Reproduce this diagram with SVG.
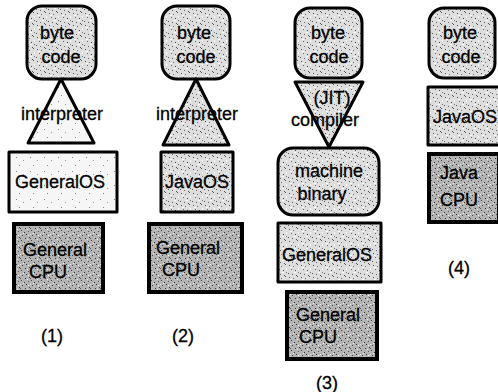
<svg xmlns="http://www.w3.org/2000/svg" width="498" height="392" viewBox="0 0 498 392">
<style>
text{font-family:"Liberation Sans",Arial,sans-serif;font-size:18px;fill:#000;stroke:#000;stroke-width:0.3;text-anchor:middle}
.b{stroke:#000;stroke-width:3;stroke-linejoin:round}
.bk{stroke:#000;stroke-width:4}
</style>
<defs>
<pattern id="pL" width="12" height="12" patternUnits="userSpaceOnUse">
<rect width="12" height="12" fill="#dedede"/>
<rect x="1" y="1" width="1" height="1" fill="#555"/><rect x="5" y="2" width="1" height="1" fill="#777"/><rect x="9" y="0" width="1" height="1" fill="#555"/>
<rect x="3" y="5" width="1" height="1" fill="#666"/><rect x="7" y="6" width="1" height="1" fill="#444"/><rect x="10" y="8" width="1" height="1" fill="#777"/>
<rect x="0" y="9" width="1" height="1" fill="#555"/><rect x="4" y="10" width="1" height="1" fill="#666"/><rect x="8" y="11" width="1" height="1" fill="#555"/>
<rect x="2" y="3" width="2" height="1" fill="#fff"/><rect x="6" y="8" width="2" height="1" fill="#fff"/><rect x="10" y="4" width="1" height="2" fill="#fff"/>
</pattern>
<pattern id="pW" width="14" height="14" patternUnits="userSpaceOnUse">
<rect width="14" height="14" fill="#f6f6f6"/>
<rect x="2" y="3" width="1" height="1" fill="#888"/><rect x="9" y="6" width="1" height="1" fill="#999"/><rect x="5" y="11" width="1" height="1" fill="#888"/>
</pattern>
<pattern id="pD" width="10" height="10" patternUnits="userSpaceOnUse">
<rect width="10" height="10" fill="#b4b4b4"/>
<rect x="1" y="0" width="1" height="1" fill="#444"/><rect x="4" y="2" width="1" height="1" fill="#333"/><rect x="8" y="1" width="1" height="1" fill="#555"/>
<rect x="2" y="5" width="1" height="1" fill="#444"/><rect x="6" y="4" width="1" height="1" fill="#333"/><rect x="9" y="7" width="1" height="1" fill="#444"/>
<rect x="0" y="8" width="1" height="1" fill="#555"/><rect x="5" y="8" width="1" height="1" fill="#333"/>
<rect x="3" y="3" width="1" height="1" fill="#eee"/><rect x="7" y="9" width="1" height="1" fill="#eee"/><rect x="0" y="4" width="1" height="1" fill="#eee"/><rect x="8" y="5" width="1" height="1" fill="#fff"/>
</pattern>
</defs>
<g id="connectors"/>

<!-- Column 1 -->
<g id="bytecode1"><rect class="b" x="27" y="6" width="69" height="73" rx="15" fill="url(#pL)"/><text x="57" y="39">byte</text><text x="61" y="63">code</text></g>
<g id="interpreter1"><polygon class="b" points="61,79 28,143 94,143" fill="url(#pW)"/><text x="62" y="120">interpreter</text></g>
<g id="generalos1"><rect class="b" x="9" y="152" width="108" height="60" fill="url(#pW)"/><text x="60" y="188">GeneralOS</text></g>
<g id="generalcpu1"><rect class="bk" x="14" y="224" width="89" height="68" fill="url(#pD)"/><text x="55" y="256">General</text><text x="48" y="278">CPU</text></g>
<g id="label1"><text x="52" y="342">(1)</text></g>

<!-- Column 2 -->
<g id="bytecode2"><rect class="b" x="162" y="6" width="68" height="73" rx="15" fill="url(#pL)"/><text x="194" y="39">byte</text><text x="196" y="63">code</text></g>
<g id="interpreter2"><polygon class="b" points="196,79 163,145 229,145" fill="url(#pL)"/><text x="197" y="120">interpreter</text></g>
<g id="javaos2"><rect class="b" x="161" y="152" width="72" height="60" fill="url(#pL)"/><text x="197" y="188">JavaOS</text></g>
<g id="generalcpu2"><rect class="bk" x="149" y="224" width="93" height="68" fill="url(#pD)"/><text x="188" y="254">General</text><text x="181" y="276">CPU</text></g>
<g id="label2"><text x="183" y="342">(2)</text></g>

<!-- Column 3 -->
<g id="bytecode3"><rect class="b" x="295" y="8" width="67" height="70" rx="15" fill="url(#pL)"/><text x="328" y="39">byte</text><text x="329" y="63">code</text></g>
<g id="jit3"><polygon class="b" points="295,82 363,82 329,147" fill="url(#pL)"/><text x="332" y="104">(JIT)</text><text x="325" y="126">compiler</text></g>
<g id="machine3"><rect class="b" x="278" y="148" width="101" height="67" rx="15" fill="url(#pL)"/><text x="329" y="177">machine</text><text x="322" y="200">binary</text></g>
<g id="generalos3"><rect class="b" x="278" y="223" width="103" height="59" fill="url(#pL)"/><text x="327" y="261">GeneralOS</text></g>
<g id="generalcpu3"><rect class="bk" x="287" y="292" width="90" height="67" fill="url(#pD)"/><text x="328" y="321">General</text><text x="318" y="343">CPU</text></g>
<g id="label3"><text x="327" y="389">(3)</text></g>

<!-- Column 4 -->
<g id="bytecode4"><rect class="b" x="429" y="8" width="66" height="70" rx="15" fill="url(#pL)"/><text x="460" y="39">byte</text><text x="461" y="63">code</text></g>
<g id="javaos4"><rect class="b" x="428" y="87" width="72" height="58" fill="url(#pL)"/><text x="465" y="123">JavaOS</text></g>
<g id="javacpu4"><rect class="bk" x="429" y="154" width="70" height="68" stroke-width="5" fill="url(#pD)"/><text x="459" y="179">Java</text><text x="459" y="206">CPU</text></g>
<g id="label4"><text x="459" y="274">(4)</text></g>
</svg>
